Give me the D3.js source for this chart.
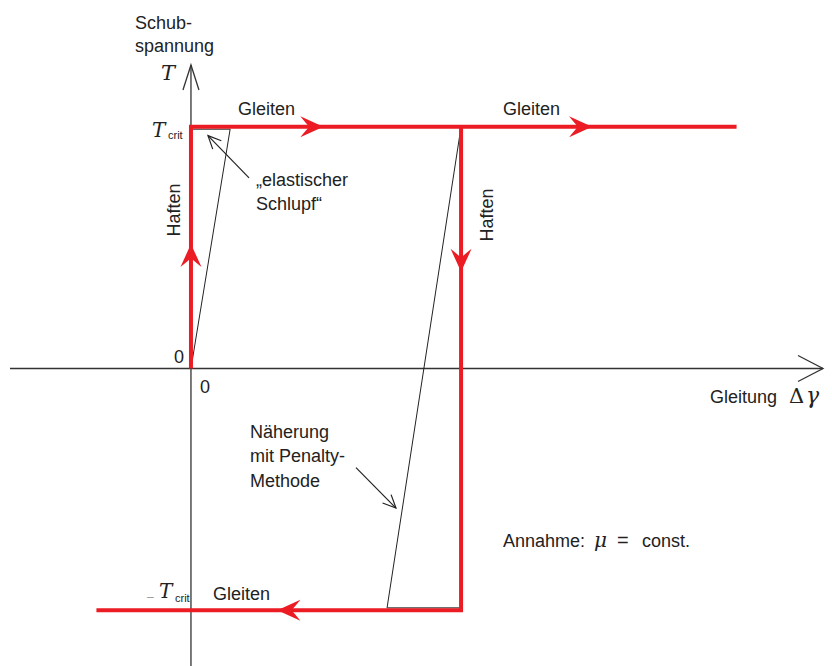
<!DOCTYPE html>
<html><head><meta charset="utf-8">
<script src="https://cdn.jsdelivr.net/npm/d3@7"></script>
<style>
body{margin:0;background:#fff}
text{font-family:"Liberation Sans",Arial,sans-serif;fill:#222}
.math{font-family:"DejaVu Serif","Liberation Serif",serif;font-style:italic}
</style>
</head><body><svg id="c" width="832" height="666"></svg>
<script>
// Axis extents (Δγ in units of the penalty-loop width, τ in units of τ_crit)
const xDomain = [-0.67, 2.34];
const yDomain = [-1.23, 1.255];
// Red friction path (stick / slip)
const loadPath = [[0, 0], [0, 1], [2.02, 1]];
const unloadPath = [[1, 1], [1, -1], [-0.35, -1]];
// Thin black penalty approximations
const elasticSlip = [[0, 0], [0.145, 1], [0.007, 1]];
const penaltyApprox = [[1, 1], [0.726, -1], [1, -1]];
// Direction arrows on the red path
const flowArrows = [
  {x: 0.49, y: 1, dir: "right"},
  {x: 1.485, y: 1, dir: "right"},
  {x: 0, y: 0.515, dir: "up"},
  {x: 1, y: 0.40, dir: "down"},
  {x: 0.32, y: -1, dir: "left"}
];
// Annotation pointer arrows [from, to]
const pointers = [
  [[0.215, 0.788], [0.063, 0.963]],
  [[0.611, -0.41], [0.759, -0.577]]
];
const tickLabels = ["0", "0"];

const svg = d3.select("#c");
const x = d3.scaleLinear().domain(xDomain).range([10, 823]);
const y = d3.scaleLinear().domain(yDomain).range([666, 65]);
const red = "#ec1c24";
const line = d3.line().x(d => x(d[0])).y(d => y(d[1]));

// axes
const axisColor = "#333";
svg.append("line").attr("x1", x(xDomain[0])).attr("x2", x(xDomain[1]))
  .attr("y1", y(0)).attr("y2", y(0)).attr("stroke", axisColor).attr("stroke-width", 1.3);
svg.append("line").attr("x1", x(0)).attr("x2", x(0))
  .attr("y1", y(yDomain[0])).attr("y2", y(yDomain[1])).attr("stroke", axisColor).attr("stroke-width", 1.3);
function openHead(tx, ty, ang, len, w, sw, col) {
  const c = Math.cos(ang), s = Math.sin(ang);
  const p1 = [tx - len * c - w * s, ty - len * s + w * c];
  const p2 = [tx - len * c + w * s, ty - len * s - w * c];
  svg.append("path").attr("d", `M${p1}L${tx},${ty}L${p2}`)
    .attr("fill", "none").attr("stroke", col).attr("stroke-width", sw);
}
openHead(x(xDomain[1]), y(0), 0, 25, 13, 1.3, axisColor);
openHead(x(0), y(yDomain[1]), -Math.PI / 2, 25, 8, 1.3, axisColor);

// thin black lines
[elasticSlip, penaltyApprox].forEach((d, i) => {
  const off = i === 0 ? 2.5 : -2.5;
  const pts = d.map((p, j) => [x(p[0]), y(p[1]) + (j === 2 ? off : 0)]);
  pts[1][1] += off;
  svg.append("path").attr("d", "M" + pts.join("L"))
    .attr("fill", "none").attr("stroke", "#222").attr("stroke-width", 1);
});

// red path
[loadPath, unloadPath].forEach(d => {
  svg.append("path").attr("d", line(d)).attr("fill", "none")
    .attr("stroke", red).attr("stroke-width", 4).attr("stroke-linejoin", "miter");
});
const angles = {right: 0, left: 180, up: -90, down: 90};
svg.selectAll(".fa").data(flowArrows).join("path")
  .attr("d", "M0,0L-23,-10.5Q-17,-3 -14,0Q-17,3 -23,10.5Z")
  .attr("fill", red)
  .attr("transform", d => `translate(${x(d.x)},${y(d.y)}) rotate(${angles[d.dir]})`);

// pointers
pointers.forEach(([a, b]) => {
  const x1 = x(a[0]), y1 = y(a[1]), x2 = x(b[0]), y2 = y(b[1]);
  svg.append("line").attr("x1", x1).attr("y1", y1).attr("x2", x2).attr("y2", y2)
    .attr("stroke", "#222").attr("stroke-width", 1.2);
  openHead(x2, y2, Math.atan2(y2 - y1, x2 - x1), 13, 6, 1.2, "#222");
});

// texts
const fs = 18;
function txt(tx, ty, s, opts = {}) {
  const t = svg.append("text").attr("x", tx).attr("y", ty).text(s)
    .attr("font-size", opts.size || fs);
  if (opts.cls) t.attr("class", opts.cls);
  if (opts.anchor) t.attr("text-anchor", opts.anchor);
  if (opts.fill) t.style("fill", opts.fill);
  if (opts.style) t.style("font-style", opts.style);
  if (opts.rot) t.attr("transform", `rotate(${opts.rot},${tx},${ty})`);
  return t;
}
txt(135, 29, "Schub-");
txt(135, 52, "spannung");
txt(161, 80, "T", {cls: "math", size: 21});
// tau_crit
txt(152, 137, "T", {cls: "math", size: 20});
txt(168, 139, "crit", {size: 11});
txt(147, 601, "–", {size: 12, fill: "#999"});
txt(159, 598, "T", {cls: "math", size: 20});
txt(175, 602, "crit", {size: 11});
// tick labels
txt(184, 363, tickLabels[0], {anchor: "end"});
txt(200, 393, tickLabels[1]);
// Gleiten labels
txt(238, 115, "Gleiten");
txt(503, 115, "Gleiten");
txt(213, 600, "Gleiten");
// Haften
txt(180, 210, "Haften", {anchor: "middle", rot: -90});
txt(493, 215, "Haften", {anchor: "middle", rot: -90});
// annotations
txt(256, 186, "„elastischer");
txt(256, 210, "Schlupf“");
txt(250, 438, "Näherung");
txt(250, 462, "mit Penalty-");
txt(250, 487, "Methode");
// x-axis label
txt(710, 403, "Gleitung");
txt(789, 403, "Δ", {cls: "math", size: 21, style: "normal"});
txt(806, 403, "γ", {cls: "math", size: 22});
// note
txt(503, 547, "Annahme:");
txt(594, 547, "μ", {cls: "math", size: 20});
txt(617, 547, "=", {size: 20});
txt(642, 547, "const.");
</script>
</body></html>
